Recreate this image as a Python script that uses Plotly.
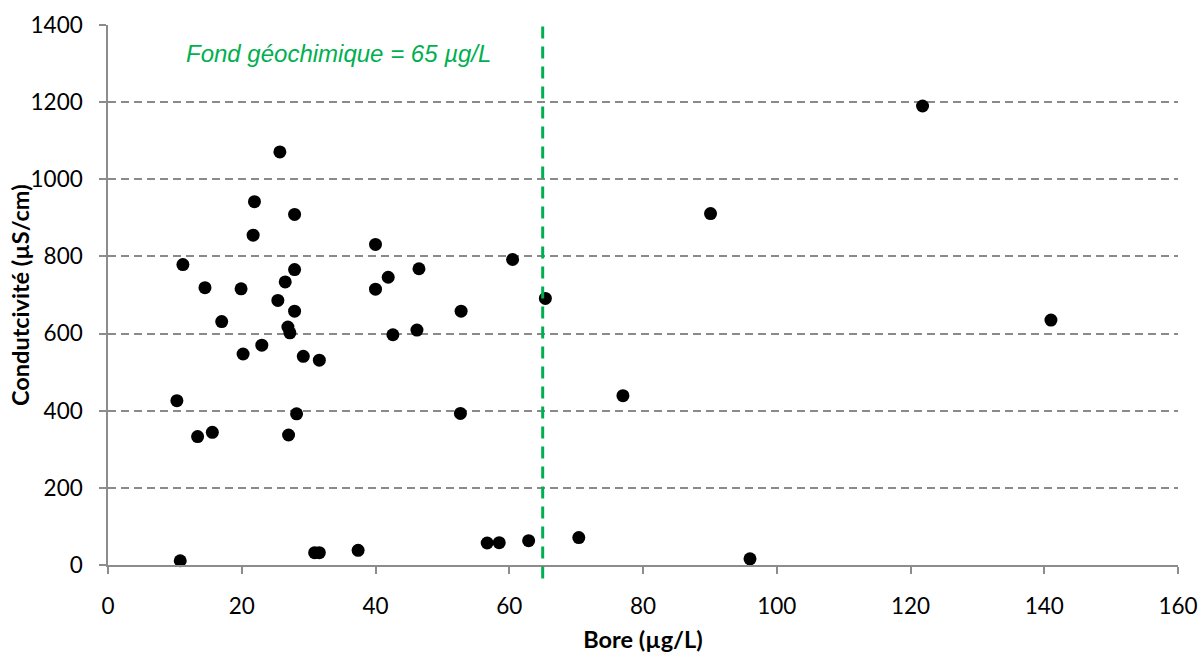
import plotly.graph_objects as go

bore = [10.3, 10.8, 11.2, 13.4, 14.5, 15.6, 17.0, 19.9, 20.2, 21.7, 21.9, 23.0,
        25.4, 25.7, 26.5, 26.9, 27.0, 27.2, 27.9, 27.9, 27.9, 28.2, 29.2,
        30.9, 31.6, 31.6, 37.4, 40.0, 40.0, 41.9, 42.6, 46.2, 46.5,
        52.8, 52.7, 56.7, 58.5, 60.5, 62.9, 65.4, 70.4, 77.0, 90.1, 96.0,
        121.8, 141.0]
conductivite = [426, 11, 779, 333, 719, 344, 631, 716, 547, 855, 942, 570,
                686, 1071, 734, 617, 337, 602, 658, 766, 909, 392, 541,
                32, 32, 531, 38, 831, 715, 746, 597, 609, 768,
                658, 393, 57, 58, 792, 63, 691, 71, 439, 911, 16,
                1190, 635]
fond_geochimique = 65

x_ticks = [0, 20, 40, 60, 80, 100, 120, 140, 160]
y_ticks = [0, 200, 400, 600, 800, 1000, 1200, 1400]

fig = go.Figure()
fig.add_trace(go.Scatter(
    x=bore, y=conductivite, mode="markers",
    marker=dict(color="black", size=13, line=dict(width=0)),
    showlegend=False, cliponaxis=False,
))

fig.add_shape(type="line", xref="x", yref="paper",
              x0=fond_geochimique, x1=fond_geochimique, y0=-0.025, y1=1,
              line=dict(color="#00B050", width=3, dash="12px,8px"))

fig.add_annotation(text="<i>Fond géochimique = 65 µg/L</i>", xref="x", yref="y",
                   x=34.5, y=1325, showarrow=False,
                   font=dict(family="Liberation Sans, Arial", size=24, color="#00B050"))

font_family = "Lato, Noto Sans, sans-serif"
axis_font = dict(family=font_family, size=22.5, color="black")
title_font = dict(family=font_family, size=23.5, color="black")

fig.add_annotation(text="<b>Condutcivité (µS/cm)</b>", xref="paper", yref="paper",
                   x=0, y=0.5, xanchor="center", yanchor="middle",
                   xshift=-88, textangle=-90, showarrow=False, font=title_font)

fig.update_layout(
    width=1200, height=653,
    margin=dict(l=108, r=22, t=25, b=88, autoexpand=False),
    paper_bgcolor="white", plot_bgcolor="white",
    xaxis=dict(
        range=[0, 160], tickvals=x_ticks, ticktext=[str(v) for v in x_ticks],
        showgrid=False, zeroline=False,
        showline=True, linecolor="#8c8c8c", linewidth=1.5,
        ticks="outside", ticklen=7, tickcolor="#8c8c8c", tickwidth=1.5,
        tickfont=axis_font, ticklabelstandoff=13, automargin=False,
        title=dict(text="<b>Bore (µg/L)</b>", standoff=20, font=title_font),
    ),
    yaxis=dict(
        range=[0, 1400], tickvals=y_ticks, ticktext=[str(v) for v in y_ticks],
        showgrid=True, gridcolor="#8a8a8a", gridwidth=1.5, griddash="8px,5px",
        zeroline=False,
        showline=True, linecolor="#8c8c8c", linewidth=1.5,
        ticks="outside", ticklen=7, tickcolor="#8c8c8c", tickwidth=1.5,
        tickfont=axis_font, ticklabelstandoff=12, automargin=False,
    ),
)

fig.write_html("out.html")
